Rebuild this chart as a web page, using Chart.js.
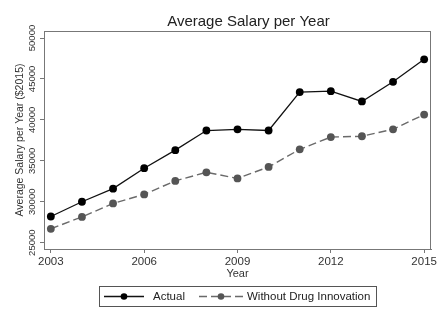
<!DOCTYPE html>
<html>
<head>
<meta charset="utf-8">
<script src="https://cdn.jsdelivr.net/npm/chart.js@4"></script>
<style>
  html, body { margin: 0; padding: 0; background: #fff; }
  canvas { display: block; }
</style>
</head>
<body>
<canvas id="c" width="443" height="322"></canvas>
<script>
// Average salary per year, constant 2015 dollars
const years = [2003, 2004, 2005, 2006, 2007, 2008, 2009, 2010, 2011, 2012, 2013, 2014, 2015];
const actual = [28200, 30000, 31600, 34100, 36300, 38700, 38850, 38700, 43400, 43500, 42250, 44650, 47400];
const withoutInnovation = [26700, 28150, 29800, 30900, 32550, 33600, 32850, 34250, 36400, 37900, 38000, 38850, 40650];
const xTicks = [2003, 2006, 2009, 2012, 2015];
const yTicks = [25000, 30000, 35000, 40000, 45000, 50000];
const seriesLabels = ['Actual', 'Without Drug Innovation'];
const chartTitle = 'Average Salary per Year';

const FONT = '"Liberation Sans", Arial, sans-serif';
const FRAME = '#777';

// full box around the plot area
const frameBox = {
  id: 'frameBox',
  afterDraw(chart) {
    const { ctx, chartArea: a } = chart;
    ctx.save();
    ctx.strokeStyle = FRAME;
    ctx.lineWidth = 1;
    ctx.strokeRect(Math.round(a.left) + 0.5, Math.round(a.top) + 0.5,
                   Math.round(a.right - a.left) - 1, Math.round(a.bottom - a.top));
    ctx.restore();
  }
};

// vertical y tick labels, centred on each tick
const yLabels = {
  id: 'yLabels',
  afterDraw(chart) {
    const { ctx } = chart;
    const s = chart.scales.y;
    ctx.save();
    ctx.fillStyle = '#333';
    ctx.font = '9.5px ' + FONT;
    ctx.textAlign = 'center';
    ctx.textBaseline = 'middle';
    s.ticks.forEach(t => {
      const y = s.getPixelForValue(t.value);
      ctx.save();
      ctx.translate(32.5, y);
      ctx.rotate(-Math.PI / 2);
      ctx.fillText(String(t.value), 0, 0);
      ctx.restore();
    });
    ctx.restore();
  }
};

// chart heading
const heading = {
  id: 'heading',
  afterDraw(chart) {
    const { ctx, chartArea: a } = chart;
    ctx.save();
    ctx.fillStyle = '#222';
    ctx.font = '15px ' + FONT;
    ctx.textAlign = 'center';
    ctx.textBaseline = 'alphabetic';
    ctx.fillText(chartTitle, (a.left + a.right) / 2 + 11, 26);
    ctx.restore();
  }
};

// boxed legend with line + marker samples
const boxLegend = {
  id: 'boxLegend',
  afterDraw(chart) {
    const { ctx } = chart;
    const box = { x: 99.5, y: 286.5, w: 277, h: 20 };
    const cy = box.y + box.h / 2;
    ctx.save();
    ctx.fillStyle = '#fff';
    ctx.fillRect(box.x, box.y, box.w, box.h);
    ctx.strokeStyle = '#555';
    ctx.lineWidth = 1;
    ctx.strokeRect(box.x, box.y, box.w, box.h);
    const items = [
      { x0: 104, x1: 144, tx: 153 },
      { x0: 199, x1: 243, tx: 247 }
    ];
    chart.data.datasets.forEach((ds, i) => {
      const it = items[i];
      ctx.strokeStyle = ds.borderColor;
      ctx.lineWidth = ds.borderWidth;
      ctx.setLineDash(ds.borderDash || []);
      ctx.beginPath();
      ctx.moveTo(it.x0, cy);
      ctx.lineTo(it.x1, cy);
      ctx.stroke();
      ctx.setLineDash([]);
      ctx.fillStyle = ds.pointBackgroundColor;
      ctx.beginPath();
      ctx.arc((it.x0 + it.x1) / 2, cy, 3.3, 0, Math.PI * 2);
      ctx.fill();
      ctx.fillStyle = '#222';
      ctx.font = '11.5px ' + FONT;
      ctx.textAlign = 'left';
      ctx.textBaseline = 'middle';
      ctx.fillText(ds.label, it.tx, cy + 0.5);
    });
    ctx.restore();
  }
};

const toPoints = vals => years.map((yr, i) => ({ x: yr, y: vals[i] }));

new Chart(document.getElementById('c'), {
  type: 'line',
  data: {
    datasets: [
      {
        label: seriesLabels[0],
        data: toPoints(actual),
        borderColor: '#111',
        borderWidth: 1.3,
        pointRadius: 3.9,
        pointBackgroundColor: '#000',
        pointBorderColor: '#000',
        pointBorderWidth: 0,
        tension: 0
      },
      {
        label: seriesLabels[1],
        data: toPoints(withoutInnovation),
        borderColor: '#6a6a6a',
        borderWidth: 1.4,
        borderDash: [8, 4],
        pointRadius: 3.9,
        pointBackgroundColor: '#555',
        pointBorderColor: '#555',
        pointBorderWidth: 0,
        tension: 0
      }
    ]
  },
  options: {
    responsive: false,
    animation: false,
    devicePixelRatio: 1,
    layout: { padding: { top: 31, right: 12, bottom: 40, left: 0 } },
    plugins: {
      legend: { display: false },
      title: { display: false },
      tooltip: { enabled: false }
    },
    scales: {
      x: {
        type: 'linear',
        position: 'bottom',
        min: 2002.78,
        max: 2015.22,
        afterBuildTicks: s => { s.ticks = xTicks.map(v => ({ value: v })); },
        afterFit: s => { s.height = 33; },
        ticks: {
          color: '#333',
          font: { family: FONT, size: 11.5 },
          padding: 2,
          maxRotation: 0,
          autoSkip: false,
          callback: v => String(v)
        },
        grid: { drawOnChartArea: false, drawTicks: true, tickLength: 4, color: FRAME },
        border: { display: true, color: FRAME },
        title: {
          display: true,
          text: 'Year',
          color: '#333',
          font: { family: FONT, size: 11 },
          padding: { top: 0, bottom: 1 }
        }
      },
      y: {
        type: 'linear',
        position: 'left',
        min: 24230,
        max: 50855,
        afterBuildTicks: s => { s.ticks = yTicks.map(v => ({ value: v })); },
        afterFit: s => { s.width = 44; },
        ticks: { display: false },
        grid: { drawOnChartArea: false, drawTicks: true, tickLength: 4, color: FRAME },
        border: { display: true, color: FRAME },
        title: {
          display: true,
          text: 'Average Salary per Year ($2015)',
          color: '#333',
          font: { family: FONT, size: 10.5 },
          padding: { top: 13.5, bottom: 0 }
        }
      }
    }
  },
  plugins: [frameBox, yLabels, heading, boxLegend]
});
</script>
</body>
</html>
